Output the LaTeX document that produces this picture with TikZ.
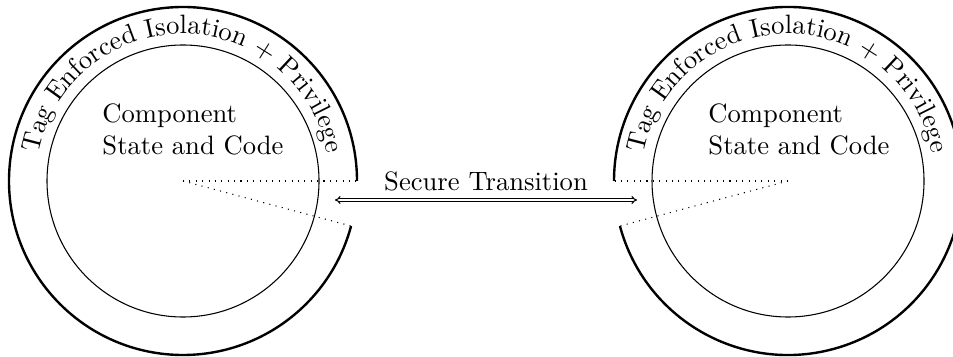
\documentclass[tikz,border=0pt]{standalone}
\usetikzlibrary{calc,decorations.text,arrows.meta}
\begin{document}
\begin{tikzpicture}[x=0.3759pt,y=0.3759pt,
  core/.style={line width=0.4pt},
  ring/.style={line width=0.9pt},
  spoke/.style={dotted},
  ringlabel/.style={decorate,decoration={text along path,text align=center,
    text={Tag Enforced Isolation + Privilege}}},
  statebox/.style={align=left},
  transit/.style={double,{Implies[scale=1.3]}-{Implies[scale=1.3]}}]
\useasboundingbox (0,0) rectangle (953,356);
% component centres
\coordinate (L) at (183,175);
\coordinate (R) at (788,175);

% left component
\draw[core] (L) circle (136);
\draw[ring] ($(L)+(0:174)$) arc[start angle=0,end angle=345,radius=174];
\path[ringlabel] ($(L)+(180:147)$) arc[start angle=180,end angle=0,radius=147];
\coordinate (Lgapa) at ($(L)+(0:174)$);
\coordinate (Lgapb) at ($(L)+(-15:174)$);
\draw[spoke] (L) -- (Lgapa);
\draw[spoke] (L) -- (Lgapb);
\node[statebox] (Lstate) at ($(L)+(10,51.5)$) {Component\\State and Code};

% right component
\draw[core] (R) circle (136);
\draw[ring] ($(R)+(195:174)$) arc[start angle=-165,end angle=180,radius=174];
\path[ringlabel] ($(R)+(180:147)$) arc[start angle=180,end angle=0,radius=147];
\coordinate (Rgapa) at ($(R)+(180:174)$);
\coordinate (Rgapb) at ($(R)+(195:174)$);
\draw[spoke] (R) -- (Rgapa);
\draw[spoke] (R) -- (Rgapb);
\node[statebox] (Rstate) at ($(R)+(11,51.5)$) {Component\\State and Code};

% transition between the two components
\coordinate (ta) at ($(L)+(152,-19)$);
\coordinate (tb) at ($(R)+(-151,-19)$);
\draw[transit] (ta) -- node[above] (tlabel) {Secure Transition} (tb);
\end{tikzpicture}
\end{document}
